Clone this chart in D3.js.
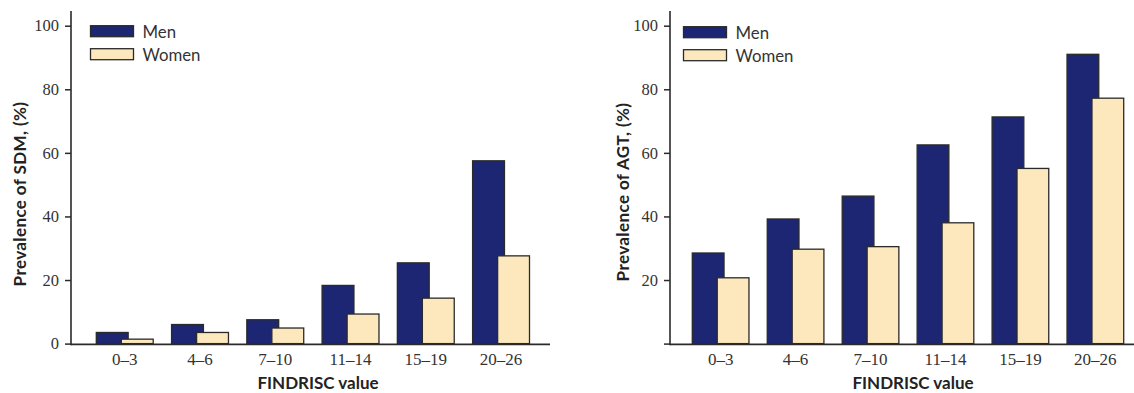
<!DOCTYPE html>
<html><head><meta charset="utf-8">
<script src="https://cdn.jsdelivr.net/npm/d3@7"></script>
<style>
body{margin:0;background:#fff;}
svg{display:block;}
</style></head>
<body>
<svg id="chart" width="1134" height="393"></svg>
<script>
const categories = ["0–3","4–6","7–10","11–14","15–19","20–26"];
const seriesNames = ["Men","Women"];
const sdmMen   = [3.5, 6.0, 7.5, 18.3, 25.4, 57.5];
const sdmWomen = [1.4, 3.5, 4.9, 9.3, 14.3, 27.6];
const agtMen   = [28.5, 39.2, 46.4, 62.5, 71.3, 91.0];
const agtWomen = [20.7, 29.7, 30.5, 38.0, 55.1, 77.2];
const yTicks = [0, 20, 40, 60, 80, 100];
const yTickLabelsLeft  = ["0","20","40","60","80","100"];
const yTickLabelsRight = ["","20","40","60","80","100"];

const colors = {Men:"#1d2673", Women:"#fde8be"};
const stroke = "#2a2a2a";
const sans = "Lato, 'Open Sans', sans-serif";
const serif = "'Liberation Serif', serif";
const svg = d3.select("#chart");

function panel(opts){
  const g = svg.append("g");
  const y = d3.scaleLinear().domain([0,100]).range([343.6, 25.7]);
  const x = d3.scaleBand().domain(categories).range([opts.bandStart, opts.bandEnd]).paddingInner(0.244).paddingOuter(0);
  const bw = x.bandwidth();
  const barW = bw*0.56;
  const data = categories.map((c,i)=>({c, men:opts.men[i], women:opts.women[i]}));
  g.selectAll("rect.men").data(data).join("rect")
    .attr("x", d=>x(d.c)).attr("width", barW)
    .attr("y", d=>y(d.men)).attr("height", d=>y(0)-y(d.men))
    .attr("fill", colors.Men).attr("stroke", stroke).attr("stroke-width",1.3);
  g.selectAll("rect.women").data(data).join("rect")
    .attr("x", d=>x(d.c)+bw-barW).attr("width", barW)
    .attr("y", d=>y(d.women)).attr("height", d=>y(0)-y(d.women))
    .attr("fill", colors.Women).attr("stroke", stroke).attr("stroke-width",1.3);
  g.append("line").attr("x1",opts.axisX).attr("x2",opts.baseEnd)
    .attr("y1",y(0)+0.8).attr("y2",y(0)+0.8).attr("stroke",stroke).attr("stroke-width",1.6);
  const yAxis = d3.axisLeft(y).tickValues(yTicks).tickSize(6).tickPadding(6)
    .tickFormat((d,i)=>opts.yLabels[i]);
  const ya = g.append("g").attr("transform",`translate(${opts.axisX},0)`).call(yAxis);
  ya.select(".domain").remove();
  ya.selectAll(".tick line").attr("stroke",stroke).attr("stroke-width",1.5);
  ya.selectAll(".tick text").attr("fill","#333").style("font-family",serif).style("font-size","16.5px");
  g.append("line").attr("x1",opts.axisX).attr("x2",opts.axisX).attr("y1",11).attr("y2",y(0)+1.6)
    .attr("stroke",stroke).attr("stroke-width",1.6);
  const xAxis = d3.axisBottom(x).tickSize(0).tickPadding(8);
  const xa = g.append("g").attr("transform",`translate(0,${y(0)+1})`).call(xAxis);
  xa.select(".domain").remove();
  xa.selectAll(".tick text").attr("fill","#333").style("font-family",serif).style("font-size","17px");
  g.append("text").attr("x",opts.xTitleX).attr("y",388.5).attr("text-anchor","middle")
    .style("font-family",sans).style("font-weight","bold").style("font-size","17px")
    .attr("fill","#222").text("FINDRISC value");
  g.append("text").attr("transform",`translate(${opts.yTitleX},${opts.yTitleY}) rotate(-90)`)
    .attr("text-anchor","middle").attr("dy","0.35em")
    .style("font-family",sans).style("font-weight","bold").style("font-size","17px")
    .style("letter-spacing","0.4px")
    .attr("fill","#222").text(opts.yTitle);
  const lg = g.append("g").attr("transform",`translate(${opts.legX},${opts.legY})`);
  seriesNames.forEach((s,i)=>{
    lg.append("rect").attr("x",0).attr("y",i*23).attr("width",43).attr("height",11)
      .attr("fill",colors[s]).attr("stroke",stroke).attr("stroke-width",1.3);
    lg.append("text").attr("x",52).attr("y",i*23+6.5).attr("dy","0.35em")
      .style("font-family",sans).style("font-size","16.8px")
      .attr("fill","#333").text(s);
  });
}

panel({men:sdmMen, women:sdmWomen, bandStart:96.3, bandEnd:529.5, axisX:71, baseEnd:550,
  yLabels:yTickLabelsLeft, xTitleX:318, yTitleX:20, yTitleY:194, yTitle:"Prevalence of SDM, (%)",
  legX:90.5, legY:25.7});
panel({men:agtMen, women:agtWomen, bandStart:692.3, bandEnd:1123.7, axisX:670, baseEnd:1134,
  yLabels:yTickLabelsRight, xTitleX:913, yTitleX:623, yTitleY:192, yTitle:"Prevalence of AGT, (%)",
  legX:683.5, legY:26.7});
</script>
</body></html>
